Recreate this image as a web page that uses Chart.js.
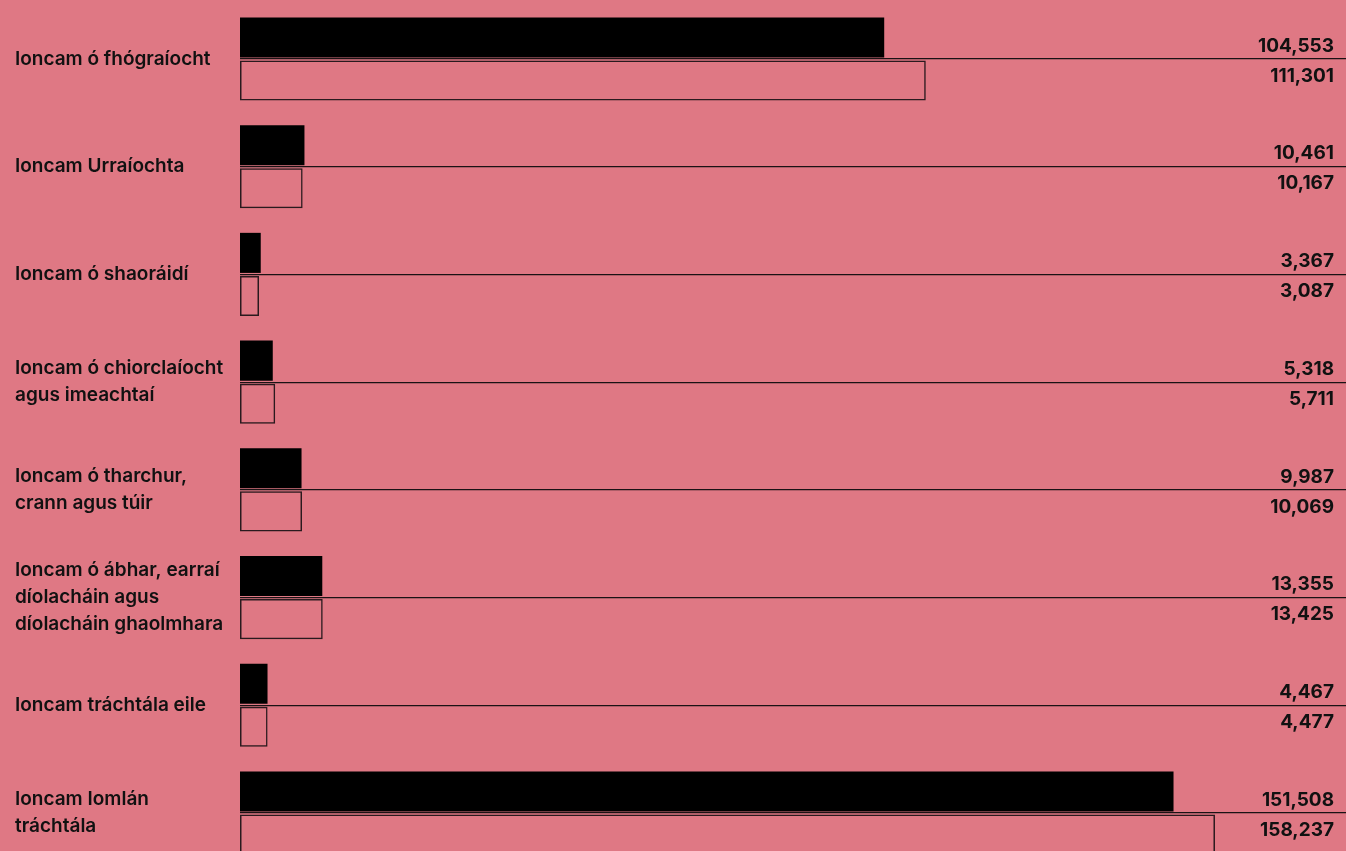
<!DOCTYPE html>
<html>
<head>
<meta charset="utf-8">
<script src="https://cdn.jsdelivr.net/npm/chart.js@4/dist/chart.umd.min.js"></script>
<style>
  html, body { margin: 0; padding: 0; background: #DF7884; }
  #wrap { width: 1346px; height: 851px; position: relative; }
</style>
</head>
<body>
<div id="wrap"><canvas id="c"></canvas></div>
<script>
const categories = [
  "Ioncam ó fhógraíocht",
  "Ioncam Urraíochta",
  "Ioncam ó shaoráidí",
  ["Ioncam ó chiorclaíocht", "agus imeachtaí"],
  ["Ioncam ó tharchur,", "crann agus túir"],
  ["Ioncam ó ábhar, earraí", "díolacháin agus", "díolacháin ghaolmhara"],
  "Ioncam tráchtála eile",
  ["Ioncam Iomlán", "tráchtála"]
];
const seriesCurrent = [104553, 10461, 3367, 5318, 9987, 13355, 4467, 151508];
const seriesPrevious = [111301, 10167, 3087, 5711, 10069, 13425, 4477, 158237];
const seriesNames = ["Bliain reatha", "Bliain roimhe"];

const FONT = "Inter, 'Liberation Sans', sans-serif";

const valueLabels = {
  id: 'valueLabels',
  afterDatasetsDraw(chart) {
    const ctx = chart.ctx;
    const y = chart.scales.y;
    ctx.save();
    ctx.font = "700 19px " + FONT;
    ctx.fillStyle = "#111";
    ctx.textAlign = "right";
    ctx.textBaseline = "middle";
    const xr = chart.width - 12;
    for (let i = 0; i < categories.length; i++) {
      const yp = y.getPixelForValue(i);
      ctx.fillText(seriesCurrent[i].toLocaleString('en-US'), xr, yp - 13);
      ctx.fillText(seriesPrevious[i].toLocaleString('en-US'), xr, yp + 17);
    }
    ctx.restore();
  }
};

new Chart(document.getElementById('c'), {
  type: 'bar',
  data: {
    labels: categories,
    datasets: [
      {
        label: seriesNames[0],
        data: seriesCurrent,
        backgroundColor: '#000000',
        borderWidth: 0,
        clip: false,
        categoryPercentage: 0.8,
        barPercentage: 0.93
      },
      {
        label: seriesNames[1],
        data: seriesPrevious,
        backgroundColor: 'rgba(0,0,0,0)',
        borderColor: '#2a1a1e',
        borderWidth: 1.5,
        borderSkipped: false,
        clip: false,
        categoryPercentage: 0.8,
        barPercentage: 0.93
      }
    ]
  },
  options: {
    indexAxis: 'y',
    responsive: true,
    maintainAspectRatio: false,
    animation: false,
    layout: { padding: { left: 15, right: 0, top: 59, bottom: 38 } },
    plugins: {
      legend: { display: false },
      tooltip: { enabled: false }
    },
    scales: {
      x: {
        display: false,
        min: 0,
        max: 179500
      },
      y: {
        type: 'category',
        offset: false,
        afterFit(scale) { scale.width = 225; },
        border: { display: false },
        grid: {
          offset: false,
          color: '#1a1214',
          lineWidth: 1.2,
          drawTicks: false
        },
        ticks: {
          autoSkip: false,
          crossAlign: 'far',
          color: '#111',
          padding: 0,
          font: { family: FONT, size: 19, weight: '600', lineHeight: 1.42 }
        }
      }
    }
  },
  plugins: [valueLabels]
});
</script>
</body>
</html>
